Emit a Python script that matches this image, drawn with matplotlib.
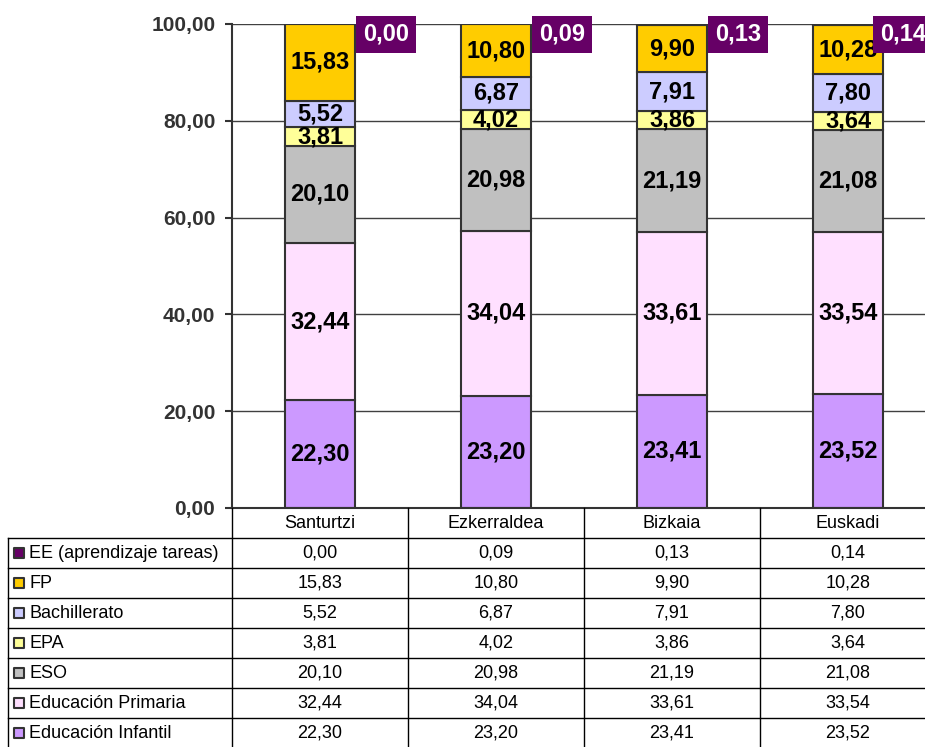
import matplotlib.pyplot as plt

plt.rcParams['font.family'] = ['Liberation Sans', 'DejaVu Sans']

zonas = ['Santurtzi', 'Ezkerraldea', 'Bizkaia', 'Euskadi']
niveles = ['Educación Infantil', 'Educación Primaria', 'ESO', 'EPA',
           'Bachillerato', 'FP', 'EE (aprendizaje tareas)']
colores = ['#CC99FF', '#FFE0FF', '#C0C0C0', '#FFFF99', '#CCCCFF', '#FFCC00', '#660066']

infantil = [22.30, 23.20, 23.41, 23.52]
primaria = [32.44, 34.04, 33.61, 33.54]
eso = [20.10, 20.98, 21.19, 21.08]
epa = [3.81, 4.02, 3.86, 3.64]
bachillerato = [5.52, 6.87, 7.91, 7.80]
fp = [15.83, 10.80, 9.90, 10.28]
ee = [0.00, 0.09, 0.13, 0.14]
series = [infantil, primaria, eso, epa, bachillerato, fp, ee]


def fmt(v):
    return f'{v:.2f}'.replace('.', ',')


W, H = 925, 747
fig = plt.figure(figsize=(W / 100, H / 100), dpi=100)
# zona del grafico (en pixeles): x 232..936, y 24..508
ax = fig.add_axes([232 / W, (H - 508) / H, 704 / W, 484 / H])

x = list(range(len(zonas)))
ancho = 0.4
base = [0, 0, 0, 0]
for k, (vals, col) in enumerate(zip(series, colores)):
    ax.bar(x, vals, ancho, bottom=base, color=col, edgecolor='#333333', linewidth=1.5, zorder=3)
    for i, v in enumerate(vals):
        if k < len(series) - 1:
            ax.text(i, base[i] + v / 2, fmt(v), ha='center', va='center',
                    fontsize=17, fontweight='bold', color='black', zorder=4)
    base = [b + v for b, v in zip(base, vals)]

# etiqueta de EE en caja morada a la derecha de la barra
# (la ultima se desplaza a la izquierda para que quepa, como en el original)
desplaz = [5.5, 5.5, 5.5, -2.5]
for i, v in enumerate(ee):
    ax.annotate(fmt(v), xy=(i + ancho / 2, base[i]), xytext=(desplaz[i], -7.5),
                textcoords='offset points', ha='left', va='center',
                fontsize=17, fontweight='bold', color='white', zorder=5,
                bbox=dict(boxstyle='square,pad=0.3', fc='#660066', ec='none'),
                annotation_clip=False)

ax.set_xlim(-0.5, 3.5)
ax.set_ylim(0, 100)
ax.set_yticks([0, 20, 40, 60, 80, 100])
ax.set_yticklabels([fmt(t) for t in [0, 20, 40, 60, 80, 100]],
                   fontsize=15, fontweight='bold', color='#333333')
ax.tick_params(axis='y', direction='out', length=5, width=1.5, color='#333333', pad=7)
ax.set_xticks([])
ax.grid(axis='y', color='#404040', linewidth=1, zorder=0)
for s in ['top', 'right', 'bottom']:
    ax.spines[s].set_visible(False)
ax.spines['left'].set_color('#333333')
ax.spines['left'].set_linewidth(1.5)

# tabla de datos
izq = -0.5 - 224 / 176
tab = fig.add_axes([8 / W, (H - 748) / H, 928 / W, 240 / H])
tab.set_xlim(izq, 3.5)
tab.set_ylim(8, 0)
tab.axis('off')
lc = 'black'
lw = 1
# lineas horizontales
tab.plot([-0.5, 3.5], [0, 0], color='#333333', lw=1.5, clip_on=False)
for r in range(1, 8):
    tab.plot([izq, 3.5], [r, r], color=lc, lw=lw, clip_on=False)
# lineas verticales
tab.plot([izq, izq], [1, 8], color=lc, lw=lw, clip_on=False)
for c in range(5):
    tab.plot([c - 0.5, c - 0.5], [0, 8], color=lc, lw=lw, clip_on=False)

for i, z in enumerate(zonas):
    tab.text(i, 0.5, z, ha='center', va='center', fontsize=13)

filas = list(range(len(series)))[::-1]
for r, k in enumerate(filas, start=1):
    tab.scatter([izq + 0.065], [r + 0.5], marker='s', s=55, color=colores[k],
                edgecolor='#333333', linewidth=1.5, clip_on=False)
    tab.text(izq + 0.12, r + 0.5, niveles[k], ha='left', va='center', fontsize=13)
    for i, v in enumerate(series[k]):
        tab.text(i, r + 0.5, fmt(v), ha='center', va='center', fontsize=13)

fig.savefig('out.png', dpi=100)
